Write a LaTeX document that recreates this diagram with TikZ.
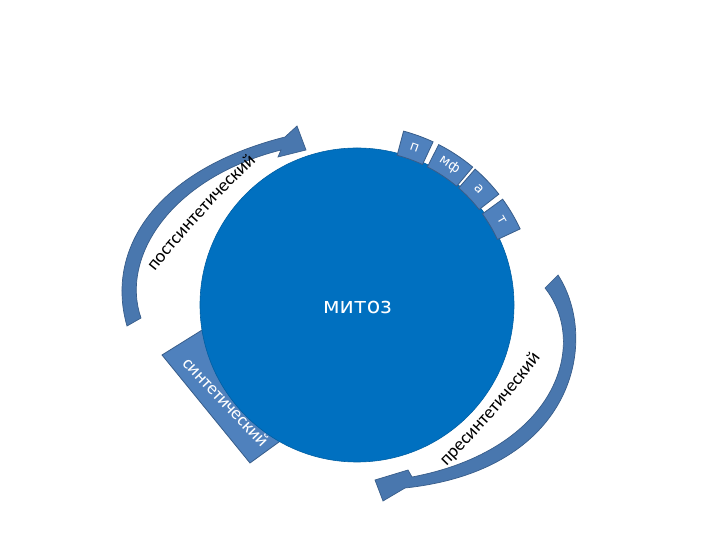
\documentclass[tikz,border=0pt]{standalone}
\usepackage{fontspec}
\setmainfont{Carlito}
\newfontfamily\widefont{DejaVu Sans}
\usetikzlibrary{decorations.text}

\definecolor{cellblue}{HTML}{0070C0}
\definecolor{phaseblue}{HTML}{4F81BD}
\definecolor{phaseedge}{HTML}{385D8A}

\begin{document}
\begin{tikzpicture}[x=1pt,y=1pt,
  phasebox/.style={fill=phaseblue, draw=phaseedge, line width=0.8pt},
  phasearrow/.style={fill=phaseblue!92!black, draw=phaseedge, line width=0.7pt},
  phasetext/.style={text=white, font=\widefont\fontsize{13.5}{13.5}\selectfont, inner sep=0pt}]

\useasboundingbox (0,0) rectangle (720,540);
%\draw[blue, thin] (0,0) rectangle (720,540);

% synthesis band, partly hidden under the cell
\draw[phasebox] (162,185) -- (215,218) -- (290,106) -- (250,77) -- cycle;

% cell
\node[circle, minimum size=314pt, inner sep=0pt, fill=cellblue, draw=cellblue!85!black, line width=0.6pt] (cell) at (357,235) {};
\node[text=white, font=\widefont\fontsize{22}{22}\selectfont] (mitosis) at (357.5,232.5) {митоз};

\path[decorate, decoration={text along path, text align=center,
  text={|\color{white}\fontsize{18.5}{18.5}\selectfont|синтетический}}]
  (172,186) .. controls (204,152) and (238,116) .. (271,82);

% stages of mitosis
\foreach \a/\b/\txt/\nm in {65/75/п/pro, 50/63/мф/prometa, 38/49/а/ana, 25/36/т/telo}{
  \pgfmathsetmacro\mid{(\a+\b)/2}
  \draw[phasebox] ([shift={(357,235)}]\a:155) arc[start angle=\a, end angle=\b, radius=155]
    -- ([shift={(357,235)}]\b:180) arc[start angle=\b, end angle=\a, radius=180] -- cycle;
  \node[phasetext, rotate=\mid-90] (\nm) at ([shift={(357,235)}]\mid:168) {\txt};
}

% postsynthetic arrow
\draw[phasearrow] (127,214) .. controls (105,290) and (155,370) .. (285,403)
  -- (297,414) -- (306,390) -- (278,383) -- (281,390)
  .. controls (170,362) and (120,282) .. (141,222) -- cycle;
\path[decorate, decoration={text along path, text align=center,
  text={|\fontsize{18.5}{18.5}\selectfont|постсинтетический}}]
  (150,262) .. controls (180,300) and (215,340) .. (262,384);

% presynthetic arrow
\draw[phasearrow] (558,265) .. controls (600,200) and (575,70) .. (405,52)
  -- (383,39) -- (375,60) -- (408,70) -- (412,63)
  .. controls (555,90) and (590,195) .. (545,252) -- cycle;
\path[decorate, decoration={text along path, text align=center,
  text={|\fontsize{18.5}{18.5}\selectfont|пресинтетический}}]
  (440,67) .. controls (478,105) and (514,146) .. (546,190);

\end{tikzpicture}
\end{document}
